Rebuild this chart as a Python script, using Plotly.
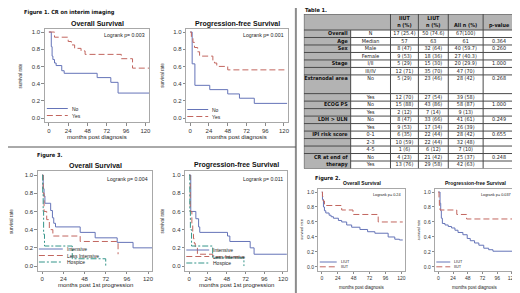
import plotly.graph_objects as go

# window is 520x293; the page body has an 8px margin, so the figure is 512x285
WIN_W, WIN_H, PAGE_MARGIN = 520, 293, 8
W, H = WIN_W - PAGE_MARGIN, WIN_H - PAGE_MARGIN

# ---------------- data ----------------
month_ticks = [0, 24, 48, 72, 96, 120]
rate_ticks = [0.0, 0.2, 0.4, 0.6, 0.8, 1.0]

# Figure 1 - CR on interim imaging
f1_os_no_t = [0, 3, 4, 5, 7, 9, 16, 19, 60, 77, 86, 125]
f1_os_no_s = [1.0, 0.83, 0.72, 0.68, 0.64, 0.61, 0.55, 0.52, 0.47, 0.415, 0.29, 0.29]
f1_os_yes_t = [0, 7, 24, 28, 32, 40, 45, 90, 104, 125]
f1_os_yes_s = [1.0, 0.94, 0.89, 0.85, 0.81, 0.78, 0.74, 0.69, 0.58, 0.58]
f1_pfs_no_t = [0, 2.5, 6, 25, 48, 63, 82, 124]
f1_pfs_no_s = [1.0, 0.63, 0.38, 0.33, 0.28, 0.23, 0.17, 0.17]
f1_pfs_yes_t = [0, 1.5, 3.5, 5.5, 9.5, 12, 29, 31, 34, 48, 124]
f1_pfs_yes_s = [1.0, 0.94, 0.88, 0.82, 0.77, 0.72, 0.67, 0.64, 0.60, 0.56, 0.56]

# Figure 3 - by treatment after 1st progression
f3_os_int_t = [0, 1, 2, 3, 9.5, 11.5, 13, 15, 43, 60, 85, 103, 125]
f3_os_int_s = [1.0, 0.85, 0.77, 0.69, 0.61, 0.53, 0.47, 0.43, 0.37, 0.31, 0.26, 0.20, 0.20]
f3_os_less_t = [0, 1, 2, 5, 8, 12, 43, 86]
f3_os_less_s = [1.0, 0.80, 0.60, 0.51, 0.40, 0.33, 0.27, 0.13]
f3_os_hosp_t = [0, 0.5, 1, 1.5, 2.5, 34, 72]
f3_os_hosp_s = [1.0, 0.80, 0.60, 0.35, 0.22, 0.08, 0.0]
f3_pfs_int_t = [0, 2, 8.5, 12, 13.5, 49, 52, 78, 83, 125]
f3_pfs_int_s = [1.0, 0.60, 0.52, 0.43, 0.37, 0.33, 0.27, 0.20, 0.13, 0.13]
f3_pfs_less_t = [0, 1.3, 3.4, 4.5, 5.5, 6.5, 7.7, 10.5, 30, 70]
f3_pfs_less_s = [1.0, 0.60, 0.45, 0.35, 0.30, 0.25, 0.20, 0.13, 0.10, 0.10]
f3_pfs_hosp_t = [0, 0.8, 1.5, 3, 30, 70]
f3_pfs_hosp_s = [1.0, 0.60, 0.40, 0.22, 0.09, 0.0]

# Figure 2 - IIUT vs LIUT
f2_os_liut_t = [0, 1, 2.5, 4, 6, 11, 14, 17.5, 25, 30, 37.5, 45, 57.5, 69, 80, 100, 110, 117, 122]
f2_os_liut_s = [1.0, 0.90, 0.80, 0.75, 0.72, 0.69, 0.67, 0.65, 0.62, 0.60, 0.56, 0.53, 0.50, 0.47, 0.45, 0.40, 0.37, 0.36, 0.36]
f2_os_iiut_t = [0, 1, 2, 4, 30, 47, 85, 122]
f2_os_iiut_s = [1.0, 0.94, 0.88, 0.82, 0.76, 0.70, 0.60, 0.60]
f2_pfs_liut_t = [0, 2.7, 3.8, 4.8, 6.5, 10.8, 16, 21.5, 27, 32, 40, 47, 52, 59, 66, 74, 82, 89, 122]
f2_pfs_liut_s = [1.0, 0.85, 0.75, 0.65, 0.58, 0.56, 0.54, 0.52, 0.49, 0.46, 0.43, 0.38, 0.35, 0.32, 0.29, 0.25, 0.23, 0.21, 0.21]
f2_pfs_iiut_t = [0, 1, 1.6, 2.7, 30, 46, 122]
f2_pfs_iiut_s = [1.0, 0.90, 0.82, 0.76, 0.70, 0.64, 0.64]

# Table 1
tbl_header = ["", "", "IIUT<br>n (%)", "LIUT<br>n (%)", "All n (%)", "p-value"]
tbl_group = ["Overall", "Age", "Sex", "", "Stage", "", "Extranodal area", "", "ECOG PS", "",
             "LDH > ULN", "", "IPI risk score", "", "", "CR at end of", "therapy"]
tbl_level = ["N", "Median", "Male", "Female", "I/II", "III/IV", "No", "Yes", "No", "Yes",
             "No", "Yes", "0-1", "2-3", "4-5", "No", "Yes"]
tbl_iiut = ["17 (25.4)", "57", "8 (47)", "9 (53)", "5 (29)", "12 (71)", "5 (29)", "12 (70)", "15 (88)",
            "2 (12)", "8 (47)", "9 (53)", "6 (35)", "10 (59)", "1 (6)", "4 (23)", "13 (76)"]
tbl_liut = ["50 (74.6)", "63", "32 (64)", "18 (36)", "15 (30)", "35 (70)", "23 (46)", "27 (54)", "43 (86)",
            "7 (14)", "33 (66)", "17 (34)", "22 (44)", "22 (44)", "6 (12)", "21 (42)", "29 (58)"]
tbl_all = ["67(100)", "61", "40 (59.7)", "27 (40.3)", "20 (29.9)", "47 (70)", "28 (42)", "39 (58)", "58 (87)",
           "9 (13)", "41 (61)", "26 (39)", "28 (42)", "32 (48)", "7 (10)", "25 (37)", "42 (63)"]
tbl_p = ["", "0.364", "0.260", "", "1.000", "", "0.268", "", "1.000", "", "0.249", "", "0.655", "", "", "0.248", ""]

# ---------------- styles / layout ----------------
SANS = "Liberation Sans, Arial, sans-serif"
NARROW = "Liberation Sans Narrow, DejaVu Sans Condensed, Liberation Sans, sans-serif"
C_BLUE, C_RED, C_GREEN = "#6574b8", "#c2665f", "#35958a"
styles = {
    "solid": dict(color=C_BLUE, dash="solid"),
    "dash": dict(color=C_RED, dash="6px,3px"),
    "dashdot": dict(color=C_GREEN, dash="6px,2px,2px,2px"),
}


def fx(px):  # window pixel -> paper fraction
    return (px - PAGE_MARGIN) / W


def fy(py):
    return 1 - (py - PAGE_MARGIN) / H


panels = [
    dict(box=(45, 150, 28.6, 122.3), title="Overall Survival", title_y=24, tsize=7,
         logrank="Logrank p= 0.003", lr_y=35, lr_size=5.2,
         xtitle="months post diagnosis", xt_y=137, xt_size=6, ytitle_x=21, yt_size=4.6, tick=6,
         series=[("No", f1_os_no_t, f1_os_no_s, "solid"), ("Yes", f1_os_yes_t, f1_os_yes_s, "dash")],
         leg=dict(x0=47, x1=68, ys=[108.5, 115.5], size=5)),
    dict(box=(187, 289, 28.6, 122.3), title="Progression-free Survival", title_y=24, tsize=7,
         logrank="Logrank p= 0.001", lr_y=35, lr_size=5.2,
         xtitle="months post diagnosis", xt_y=137, xt_size=6, ytitle_x=163, yt_size=4.6, tick=6,
         series=[("No", f1_pfs_no_t, f1_pfs_no_s, "solid"), ("Yes", f1_pfs_yes_t, f1_pfs_yes_s, "dash")],
         leg=dict(x0=188, x1=209, ys=[109.5, 116.5], size=5)),
    dict(box=(38, 153, 171.4, 270.6), title="Overall Survival", title_y=165, tsize=7,
         logrank="Logrank p= 0.004", lr_y=179, lr_size=5.2,
         xtitle="months post 1st progression", xt_y=285, xt_size=6, ytitle_x=11, yt_size=4.6, tick=6,
         series=[("Intensive", f3_os_int_t, f3_os_int_s, "solid"),
                 ("Less Intensive", f3_os_less_t, f3_os_less_s, "dash"),
                 ("Hospice", f3_os_hosp_t, f3_os_hosp_s, "dashdot")],
         leg=dict(x0=39, x1=63, ys=[249, 255.5, 262], size=5)),
    dict(box=(186, 288, 171.4, 270.6), title="Progression-free Survival", title_y=165, tsize=7,
         logrank="Logrank p= 0.011", lr_y=179, lr_size=5.2,
         xtitle="months post 1st progression", xt_y=285, xt_size=6, ytitle_x=163, yt_size=4.6, tick=6,
         series=[("Intensive", f3_pfs_int_t, f3_pfs_int_s, "solid"),
                 ("Less Intensive", f3_pfs_less_t, f3_pfs_less_s, "dash"),
                 ("Hospice", f3_pfs_hosp_t, f3_pfs_hosp_s, "dashdot")],
         leg=dict(x0=187, x1=210, ys=[250, 256.5, 263], size=5)),
    dict(box=(319.7, 406.3, 189, 270.7), title="Overall Survival", title_y=183, tsize=5,
         logrank="Logrank p= 0.24", lr_y=195, lr_size=3.8,
         xtitle="months post diagnosis", xt_y=287, xt_size=4.5, ytitle_x=303, yt_size=3.8, tick=5,
         series=[("LIUT", f2_os_liut_t, f2_os_liut_s, "solid"), ("IIUT", f2_os_iiut_t, f2_os_iiut_s, "dash")],
         leg=dict(x0=321, x1=338, ys=[262, 266.8], size=3.8)),
    dict(box=(437, 517, 189, 270.7), title="Progression-free Survival", title_y=183, tsize=5,
         logrank="Logrank p= 0.037", lr_y=195, lr_size=3.8,
         xtitle="months post diagnosis", xt_y=287, xt_size=4.5, ytitle_x=420, yt_size=3.8, tick=5,
         series=[("LIUT", f2_pfs_liut_t, f2_pfs_liut_s, "solid"), ("IIUT", f2_pfs_iiut_t, f2_pfs_iiut_s, "dash")],
         leg=dict(x0=438, x1=452, ys=[262, 266.8], size=3.8)),
]

fig = go.Figure()
layout = dict(width=W, height=H, margin=dict(l=0, r=0, t=0, b=0),
              paper_bgcolor="white", plot_bgcolor="white", showlegend=False)
annotations, shapes = [], []


def ann(text, x, y, size, family=SANS, bold=False, xanchor="center", angle=0, color="#222"):
    annotations.append(dict(text=text, x=fx(x), y=fy(y), xref="paper", yref="paper",
                            xanchor=xanchor, yanchor="middle", showarrow=False, textangle=angle,
                            font=dict(size=size, family=family, color=color,
                                      weight="bold" if bold else "normal")))


for i, p in enumerate(panels, start=1):
    sfx = "" if i == 1 else str(i)
    l, r, t, b = p["box"]
    layout["xaxis" + sfx] = dict(domain=[fx(l), fx(r)], range=[-5, 125], anchor="y" + sfx,
                                 tickvals=month_ticks, ticks="outside", ticklen=2.5, tickwidth=1,
                                 tickcolor="#8a8a8a", showline=True, linecolor="#a8a8a8", linewidth=1,
                                 mirror=True, showgrid=False, zeroline=False,
                                 tickfont=dict(size=p["tick"], family=SANS, color="#333"))
    layout["yaxis" + sfx] = dict(domain=[fy(b), fy(t)], range=[-0.05, 1.04], anchor="x" + sfx,
                                 tickvals=rate_ticks, tickformat=".1f", ticks="outside", ticklen=2.5,
                                 tickwidth=1, tickcolor="#8a8a8a", showline=True, linecolor="#a8a8a8",
                                 linewidth=1, mirror=True, showgrid=False, zeroline=False,
                                 tickfont=dict(size=p["tick"], family=SANS, color="#333"))
    for name, tt, ss, st in p["series"]:
        fig.add_trace(go.Scatter(x=tt, y=ss, mode="lines", name=name, hoverinfo="skip",
                                 line=dict(shape="hv", width=1, **styles[st]),
                                 xaxis="x" + sfx, yaxis="y" + sfx))
    lg = p["leg"]
    for (name, _, _, st), ly in zip(p["series"], lg["ys"]):
        shapes.append(dict(type="line", xref="paper", yref="paper", x0=fx(lg["x0"]), x1=fx(lg["x1"]),
                           y0=fy(ly), y1=fy(ly), line=dict(width=1, **styles[st])))
        ann(name, lg["x1"] + 2, ly, lg["size"], xanchor="left")
    ann(p["title"], (l + r) / 2, p["title_y"], p["tsize"], bold=True, color="#111")
    ann(p["logrank"], r - 2, p["lr_y"], p["lr_size"], xanchor="right")
    ann(p["xtitle"], (l + r) / 2, p["xt_y"], p["xt_size"])
    ann("survival rate", p["ytitle_x"], (t + b) / 2, p["yt_size"], angle=-90)

# figure labels
ann("Figure 1. CR on interim imaging", 22, 12, 5.6, family=NARROW, bold=True, xanchor="left", color="#111")
ann("Figure 3.", 35, 155, 5.6, family=NARROW, bold=True, xanchor="left", color="#111")
ann("Table 1.", 304, 10.3, 5.6, family=NARROW, bold=True, xanchor="left", color="#111")
ann("Figure 2.", 314, 178, 5.6, family=NARROW, bold=True, xanchor="left", color="#111")

# dividers
shapes.append(dict(type="line", xref="paper", yref="paper", x0=fx(297), x1=fx(297), y0=0, y1=1,
                   line=dict(width=2, color="#8c8c8c")))
shapes.append(dict(type="line", xref="paper", yref="paper", x0=0, x1=fx(297), y0=fy(147), y1=fy(147),
                   line=dict(width=1, color="#555")))

# ---------------- table ----------------
tb_l, tb_r, tb_t, tb_b = 305, 517, 14, 168.5
col_w = [47, 40, 28, 30, 35, 32]
hdr_h = 16
n_rows = len(tbl_group)
ext_idx = 6
unit = (tb_b - tb_t - hdr_h) / (n_rows + 1.5)
row_h = [hdr_h] + [unit * 2.5 if k == ext_idx else unit for k in range(n_rows)]
col_edges = [0]
for w in col_w:
    col_edges.append(col_edges[-1] + w)
row_edges = [0]
for h in row_h:
    row_edges.append(row_edges[-1] + h)

z = [[1] * 6] + [[1, 0, 0, 0, 0, 0] for _ in range(n_rows)]
fig.add_trace(go.Heatmap(x=col_edges, y=row_edges, z=z, zmin=0, zmax=1, showscale=False,
                         colorscale=[[0, "white"], [1, "#b3b3b3"]],
                         hoverinfo="skip", xaxis="x7", yaxis="y7"))

# cell borders (header cells of the first two columns merged; "CR at end of therapy" merged)
gx, gy = [], []
for k, e in enumerate(col_edges):
    gx += [e, e, None]
    gy += [row_edges[1] if k == 1 else 0, row_edges[-1], None]
cr_edge = 1 + tbl_level.index("Yes", 15)
for k, e in enumerate(row_edges):
    gx += [col_edges[1] if k == cr_edge else 0, col_edges[-1], None]
    gy += [e, e, None]
fig.add_trace(go.Scatter(x=gx, y=gy, mode="lines", line=dict(color="#4a4a4a", width=1),
                         hoverinfo="skip", cliponaxis=False, xaxis="x7", yaxis="y7"))

hidden = dict(showgrid=False, showticklabels=False, ticks="", zeroline=False, showline=False)
layout["xaxis7"] = dict(domain=[fx(tb_l), fx(tb_r)], range=[0, col_edges[-1]], anchor="y7", **hidden)
layout["yaxis7"] = dict(domain=[fy(tb_b), fy(tb_t)], range=[row_edges[-1], 0], anchor="x7", **hidden)

col_c = [(col_edges[k] + col_edges[k + 1]) / 2 for k in range(6)]
row_text_y = []
for k in range(n_rows):
    top = row_edges[k + 1]
    row_text_y.append(top + unit / 2 if k == ext_idx else top + row_h[k + 1] / 2)

TFS = 5.4
# header
fig.add_trace(go.Scatter(x=col_c[2:4], y=[hdr_h / 2] * 2, text=tbl_header[2:4], mode="text",
                         textposition="middle center", cliponaxis=False, hoverinfo="skip",
                         textfont=dict(size=TFS, family=NARROW, color="#111", weight="bold"),
                         xaxis="x7", yaxis="y7"))
fig.add_trace(go.Scatter(x=col_c[4:6], y=[hdr_h * 0.72] * 2, text=tbl_header[4:6], mode="text",
                         textposition="middle center", cliponaxis=False, hoverinfo="skip",
                         textfont=dict(size=TFS, family=NARROW, color="#111", weight="bold"),
                         xaxis="x7", yaxis="y7"))
# label column
fig.add_trace(go.Scatter(x=[col_edges[1] - 3] * n_rows, y=row_text_y, text=tbl_group, mode="text",
                         textposition="middle left", cliponaxis=False, hoverinfo="skip",
                         textfont=dict(size=TFS, family=NARROW, color="#111", weight="bold"),
                         xaxis="x7", yaxis="y7"))
# data columns
for k, vals in enumerate([tbl_level, tbl_iiut, tbl_liut, tbl_all, tbl_p], start=1):
    fig.add_trace(go.Scatter(x=[col_c[k]] * n_rows, y=row_text_y, text=vals, mode="text",
                             textposition="middle center", cliponaxis=False, hoverinfo="skip",
                             textfont=dict(size=TFS, family=NARROW, color="#222"),
                             xaxis="x7", yaxis="y7"))

layout["annotations"] = annotations
layout["shapes"] = shapes
fig.update_layout(**layout)
fig.write_html("out.html")
